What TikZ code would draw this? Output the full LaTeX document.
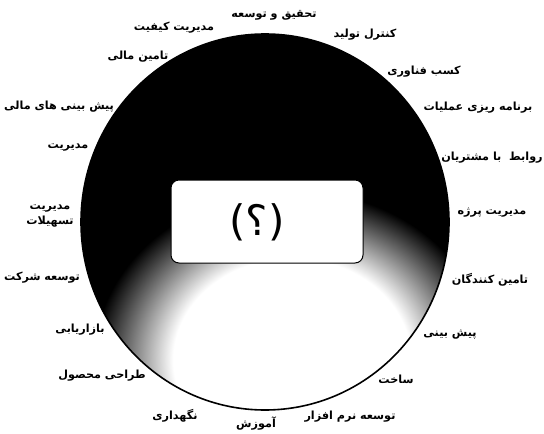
\documentclass[tikz,border=0pt]{standalone}
\usepackage{fontspec}
\TeXXeTstate=1
\newfontfamily\fa[Script=Arabic]{DejaVu Sans}
\newfontfamily\fab[Script=Arabic]{DejaVu Sans Bold}
\pgfdeclareradialshading{whiteblob}{\pgfpointorigin}{color(0bp)=(white); color(15bp)=(white); color(25bp)=(black); color(50bp)=(black)}
\begin{document}
\begin{tikzpicture}[x=1pt,y=-1pt,
  lab/.style={font=\fab\fontsize{11.2}{14.5}\selectfont, inner sep=0pt, align=center},
  qbox/.style={draw=black, fill=white, rounded corners=8pt, line width=1pt, minimum width=192pt, minimum height=83pt, inner sep=0pt}]
\useasboundingbox (0,0) rectangle (544,434);
\fill[white] (0,0) rectangle (544,434);
\begin{scope}
  \clip (265,222) ellipse [x radius=184, y radius=188];
  \fill[black] (265,222) ellipse [x radius=184, y radius=188];
  \shade[shading=whiteblob] (292,360) ellipse [x radius=198, y radius=170];
\end{scope}
\draw[line width=1.6pt] (265,222) ellipse [x radius=184, y radius=188];
\node[qbox] (box) at (267,221.5) {};
\node[font=\fa\fontsize{42}{50}\selectfont, inner sep=0pt] (q) at (257,222) {\beginR(؟)\endR};
\node[lab] (l1) at (274,15) {\beginR تحقیق و توسعه\endR};
\node[lab] (l2) at (174,28) {\beginR مدیریت کیفیت\endR};
\node[lab] (l3) at (365,35) {\beginR کنترل تولید\endR};
\node[lab] (l4) at (138,57) {\beginR تامین مالی\endR};
\node[lab] (l5) at (424,72) {\beginR کسب فناوری\endR};
\node[lab] (l6) at (59,107) {\beginR پیش بینی های مالی\endR};
\node[lab] (l7) at (478,108) {\beginR برنامه ریزی عملیات\endR};
\node[lab] (l8) at (68,148) {\beginR مدیریت\endR};
\node[lab] (l9) at (492,158) {\beginR روابط\ \ با مشتریان\endR};
\node[lab] (l10) at (50,216) {\beginR مدیریت\endR\\\beginR تسهیلات\endR};
\node[lab] (l11) at (492,213) {\beginR مدیریت پرژه\endR};
\node[lab] (l12) at (42,278) {\beginR توسعه شرکت\endR};
\node[lab] (l13) at (490,280) {\beginR تامین کنندگان\endR};
\node[lab] (l14) at (80,330) {\beginR بازاریابی\endR};
\node[lab] (l15) at (450,335) {\beginR پیش بینی\endR};
\node[lab] (l16) at (102,376) {\beginR طراحی محصول\endR};
\node[lab] (l17) at (396,379) {\beginR ساخت\endR};
\node[lab] (l18) at (175,416) {\beginR نگهداری\endR};
\node[lab] (l19) at (256,424) {\beginR آموزش\endR};
\node[lab] (l20) at (350,417) {\beginR توسعه نرم افزار\endR};
\end{tikzpicture}
\end{document}
